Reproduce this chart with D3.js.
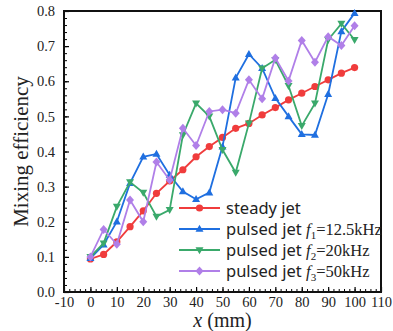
<!DOCTYPE html>
<html lang="en">
  <head>
    <meta charset="utf-8">
    <title>Mixing efficiency</title>
    <script src="https://d3js.org/d3.v7.min.js"></script>
    <style type="text/css">
        body {
          margin: 0;
          background: #fff;
        }
        .tick text {
          font-family: 'Liberation Serif', 'Times New Roman', serif;
          font-size: 14.5px;
          fill: #222;
        }
        .legend text {
          font-family: 'Noto Sans', 'DejaVu Sans', sans-serif;
          font-size: 16.5px;
          fill: #222;
        }
        .legend .serif {
          font-family: 'Liberation Serif', 'Times New Roman', serif;
        }
    </style>
  </head>
  <body>
    <div id="chart"></div>
    <script>
        // x positions (mm)
        var xs = [0, 5, 10, 15, 20, 25, 30, 35, 40, 45, 50, 55, 60, 65, 70, 75, 80, 85, 90, 95, 100];

        var steady = [0.094, 0.107, 0.143, 0.186, 0.231, 0.281, 0.316, 0.348, 0.385, 0.414, 0.44,
                      0.466, 0.48, 0.504, 0.525, 0.547, 0.566, 0.585, 0.604, 0.623, 0.639];
        var pulsedF1 = [0.096, 0.135, 0.2, 0.31, 0.385, 0.393, 0.333, 0.286, 0.264, 0.283, 0.414,
                        0.61, 0.677, 0.637, 0.552, 0.5, 0.449, 0.447, 0.563, 0.742, 0.794];
        var pulsedF2 = [0.1, 0.139, 0.243, 0.313, 0.283, 0.215, 0.234, 0.447, 0.537, 0.5, 0.405,
                        0.34, 0.48, 0.637, 0.661, 0.587, 0.473, 0.537, 0.718, 0.764, 0.718];
        var pulsedF3 = [0.1, 0.178, 0.136, 0.262, 0.2, 0.37, 0.319, 0.466, 0.417, 0.514, 0.519,
                        0.509, 0.604, 0.55, 0.666, 0.601, 0.716, 0.654, 0.727, 0.702, 0.758];

        var xTicks = [-10, 0, 10, 20, 30, 40, 50, 60, 70, 80, 90, 100, 110];
        var yTicks = [0.0, 0.1, 0.2, 0.3, 0.4, 0.5, 0.6, 0.7, 0.8];

        var series = [
          {name: "steady jet", values: steady, color: "#f03c3c", symbol: "circle"},
          {name: "pulsed jet ", sub: "1", freq: "=12.5kHz", values: pulsedF1, color: "#1f6fe0", symbol: "up"},
          {name: "pulsed jet ", sub: "2", freq: "=20kHz", values: pulsedF2, color: "#3aa96b", symbol: "down"},
          {name: "pulsed jet ", sub: "3", freq: "=50kHz", values: pulsedF3, color: "#b07fe8", symbol: "diamond"}
        ];

        var W = 393, H = 331;
        var margin = {top: 11, right: 12, bottom: 39, left: 64};
        var width = W - margin.left - margin.right;
        var height = H - margin.top - margin.bottom;

        var svg = d3.select("#chart").append("svg")
            .attr("width", W)
            .attr("height", H);

        var g = svg.append("g")
            .attr("transform", "translate(" + margin.left + "," + margin.top + ")");

        var x = d3.scaleLinear().domain([-10, 110]).range([0, width]);
        var y = d3.scaleLinear().domain([0, 0.8]).range([height, 0]);

        // minor ticks
        g.append("g")
            .attr("transform", "translate(0," + height + ")")
            .call(d3.axisBottom(x).tickValues(d3.range(-10, 110.1, 2)).tickSize(-3).tickFormat(""))
            .call(function(a) { a.select(".domain").remove(); });
        g.append("g")
            .call(d3.axisLeft(y).tickValues(d3.range(0, 0.801, 0.02)).tickSize(-3).tickFormat(""))
            .call(function(a) { a.select(".domain").remove(); });

        // major ticks
        var xAxis = g.append("g")
            .attr("transform", "translate(0," + height + ")")
            .call(d3.axisBottom(x).tickValues(xTicks).tickSize(-5).tickPadding(5)
                .tickFormat(function(d) { return String(d); }));
        xAxis.select(".domain").remove();
        xAxis.selectAll(".tick line").attr("stroke-width", 1.2);

        var yAxis = g.append("g")
            .call(d3.axisLeft(y).tickValues(yTicks).tickSize(-5).tickPadding(9).tickFormat(d3.format(".1f")));
        yAxis.select(".domain").remove();
        yAxis.selectAll(".tick line").attr("stroke-width", 1.2);

        // frame
        g.append("rect")
            .attr("width", width)
            .attr("height", height)
            .attr("fill", "none")
            .attr("stroke", "#111")
            .attr("stroke-width", 2);

        function symbolPath(s, cx, cy) {
          if (s === "up") return "M" + cx + "," + (cy - 4.2) + "L" + (cx + 4) + "," + (cy + 2.8) + "L" + (cx - 4) + "," + (cy + 2.8) + "Z";
          if (s === "down") return "M" + cx + "," + (cy + 4.2) + "L" + (cx + 4) + "," + (cy - 2.8) + "L" + (cx - 4) + "," + (cy - 2.8) + "Z";
          return "M" + cx + "," + (cy - 4.5) + "L" + (cx + 4) + "," + cy + "L" + cx + "," + (cy + 4.5) + "L" + (cx - 4) + "," + cy + "Z";
        }

        function drawMarker(sel, s, cx, cy, color) {
          if (s === "circle") {
            sel.append("circle").attr("cx", cx).attr("cy", cy).attr("r", 3.6).attr("fill", color);
          } else {
            sel.append("path").attr("d", symbolPath(s, cx, cy)).attr("fill", color);
          }
        }

        var line = d3.line()
            .x(function(d, i) { return x(xs[i]); })
            .y(function(d) { return y(d); });

        series.forEach(function(s) {
          var sg = g.append("g");
          sg.append("path")
              .datum(s.values)
              .attr("d", line)
              .attr("fill", "none")
              .attr("stroke", s.color)
              .attr("stroke-width", 1.8);
          s.values.forEach(function(v, i) {
            drawMarker(sg, s.symbol, x(xs[i]), y(v), s.color);
          });
        });

        // legend
        var legend = svg.append("g").attr("class", "legend");
        series.forEach(function(s, i) {
          var ly = 208 + i * 21;
          legend.append("line")
              .attr("x1", 179).attr("x2", 220)
              .attr("y1", ly).attr("y2", ly)
              .attr("stroke", s.color)
              .attr("stroke-width", 1.8);
          drawMarker(legend, s.symbol, 199.5, ly, s.color);
          var t = legend.append("text")
              .attr("x", 226)
              .attr("y", ly + 5.5);
          t.append("tspan").text(s.name);
          if (s.sub) {
            t.append("tspan").attr("class", "serif").attr("font-style", "italic").text("f");
            t.append("tspan").attr("class", "serif").attr("font-size", "11px").attr("dy", 4).text(s.sub);
            t.append("tspan").attr("class", "serif").attr("dy", -4).text(s.freq);
          }
        });

        // axis titles
        svg.append("text")
            .attr("transform", "translate(28," + (margin.top + height / 2) + ") rotate(-90)")
            .attr("text-anchor", "middle")
            .style("font-family", "'Liberation Serif', 'Times New Roman', serif")
            .style("font-size", "21px")
            .style("fill", "#222")
            .text("Mixing efficiency");

        var xt = svg.append("text")
            .attr("x", margin.left + width / 2)
            .attr("y", 327)
            .attr("text-anchor", "middle")
            .style("font-family", "'Liberation Serif', 'Times New Roman', serif")
            .style("font-size", "20px")
            .style("fill", "#222");
        xt.append("tspan").attr("font-style", "italic").text("x");
        xt.append("tspan").text(" (mm)");
    </script>
  </body>
</html>
